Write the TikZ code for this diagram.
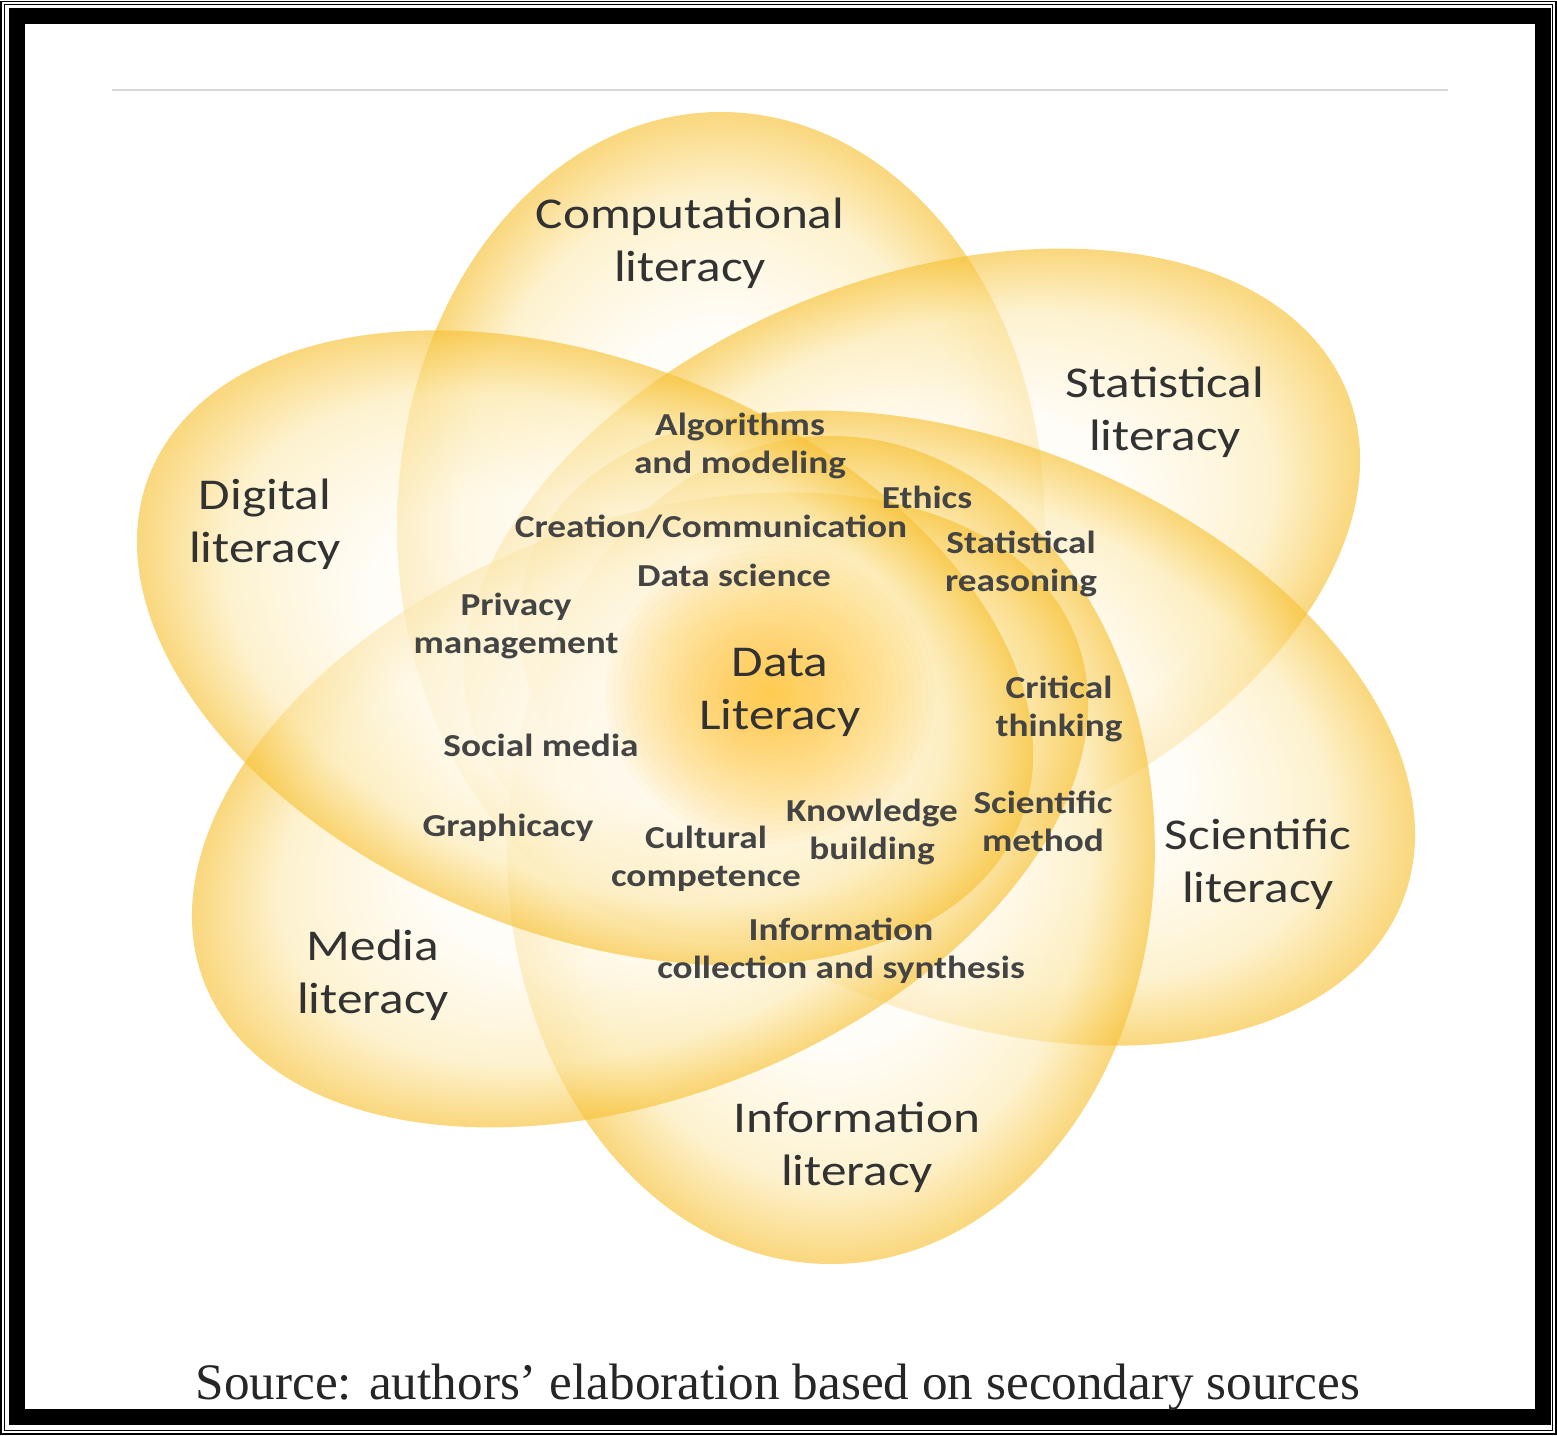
\documentclass[tikz,border=0pt]{standalone}
\usepackage{fontspec}
\setmainfont{Carlito}[FakeStretch=1.165]
\newfontfamily\captionfont{Liberation Serif}
\definecolor{petalin}{RGB}{255,252,243}
\definecolor{petalmid}{RGB}{253,236,182}
\definecolor{petalout}{RGB}{247,193,52}
\definecolor{glow}{RGB}{255,186,0}
\definecolor{txt}{RGB}{50,50,50}
\definecolor{txtsmall}{RGB}{68,68,68}
\definecolor{rulegray}{RGB}{215,215,215}
\pgfdeclareradialshading{petal}{\pgfpoint{0bp}{0bp}}{color(0bp)=(petalin); color(12bp)=(petalin); color(20bp)=(petalmid); color(25bp)=(petalout); color(50bp)=(petalout)}
\begin{document}
\begin{tikzpicture}[x=0.5pt,y=-0.5pt,
  lbl/.style={font=\fontsize{22}{26.5}\selectfont, text=txt, align=center, inner sep=0pt},
  sublbl/.style={font=\bfseries\fontsize{16}{19}\selectfont, text=txtsmall, align=center, inner sep=0pt},
  petalshape/.style={shading=petal, fill opacity=0.64}]
\useasboundingbox (0,0) rectangle (1557,1435);
\fill[white] (0,0) rectangle (1557,1435);
% frame
\draw[line width=0.7pt] (1.2,1.2) rectangle (1555.8,1433.8);
\draw[line width=0.7pt] (4.6,4.6) rectangle (1552.4,1430.4);
\draw[line width=8pt] (17,16) rectangle (1543,1417);
% top rule
\draw[rulegray, line width=1pt] (112,90) -- (1448,90);
% petals
\foreach \ang in {0,-60,-120,-180,-240,-300}{
  \begin{scope}[transform canvas={shift={(776,688)}, xscale=1.165, rotate=\ang}]
    \shade[petalshape] (-47.2,-162) ellipse (278 and 414);
  \end{scope}
}
% central glow
\foreach \r in {6,12,...,150}{
  \fill[glow, fill opacity=0.04] (770,694) ellipse ({\r*1.1} and \r);
}
% outer labels
\node[lbl] (comp) at (690,243) {Computational\\literacy};
\node[lbl] (stat) at (1165,412) {Statistical\\literacy};
\node[lbl] (digi) at (265,524) {Digital\\literacy};
\node[lbl] (sci) at (1258,864) {Scientific\\literacy};
\node[lbl] (media) at (373,975) {Media\\literacy};
\node[lbl] (info) at (857,1147) {Information\\literacy};
\node[lbl] (data) at (780,692) {Data\\Literacy};
% inner labels
\node[sublbl] (algo) at (740,446) {Algorithms\\and modeling};
\node[sublbl] (ethics) at (927,497) {Ethics};
\node[sublbl] (creat) at (711,527) {Creation/Communication};
\node[sublbl] (statr) at (1021,564) {Statistical\\reasoning};
\node[sublbl] (dsci) at (734,575) {Data science};
\node[sublbl] (priv) at (516,626) {Privacy\\management};
\node[sublbl] (crit) at (1059,709) {Critical\\thinking};
\node[sublbl] (social) at (541,745) {Social media};
\node[sublbl] (scim) at (1043,821) {Scientific\\method};
\node[sublbl] (know) at (872,832) {Knowledge\\building};
\node[sublbl] (graph) at (508,828) {Graphicacy};
\node[sublbl] (cult) at (706,859) {Cultural\\competence};
\node[sublbl] (infoc) at (841,951) {Information\\collection and synthesis};
% caption
\node[anchor=base, inner sep=0pt, text=black!85, font=\captionfont\fontsize{25.6}{30}\selectfont] (src) at (778,1399) {Source: authors’ elaboration based on secondary sources};
\end{tikzpicture}
\end{document}
